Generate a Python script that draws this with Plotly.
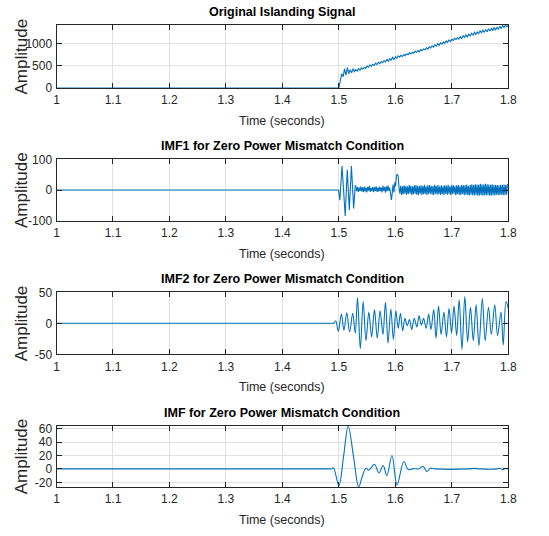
import plotly.graph_objects as go

W, H = 549, 536

# ---------------- data ----------------
time_ticks = [1.0, 1.1, 1.2, 1.3, 1.4, 1.5, 1.6, 1.7, 1.8]
time_tick_labels = ["1", "1.1", "1.2", "1.3", "1.4", "1.5", "1.6", "1.7", "1.8"]

panel_titles = [
    "Original Islanding Signal",
    "IMF1 for Zero Power Mismatch Condition",
    "IMF2 for Zero Power Mismatch Condition",
    "IMF for Zero Power Mismatch Condition",
]
x_label = "Time (seconds)"
y_label = "Amplitude"

# Panel 1: original islanding signal
orig_flat_t = [1.0, 1.5]
orig_flat_v = [0, 0]
orig_t0 = 1.5
orig_dt = 0.0025
orig_vals = [
    0, 180, 320, 250, 430, 290, 455, 320, 410, 340,
    430, 365, 410, 380, 435, 400, 450, 420, 465, 440,
    490, 465, 515, 490, 530, 505, 555, 525, 575, 545,
    590, 565, 615, 585, 640, 600, 655, 625, 685, 640,
    700, 665, 720, 690, 730, 705, 750, 725, 765, 745,
    790, 760, 800, 780, 825, 795, 840, 815, 860, 835,
    875, 855, 900, 870, 920, 895, 945, 915, 965, 935,
    990, 955, 1010, 980, 1030, 1000, 1055, 1020, 1075, 1040,
    1090, 1065, 1110, 1085, 1130, 1095, 1150, 1110, 1170, 1130,
    1190, 1145, 1205, 1165, 1225, 1180, 1245, 1200, 1255, 1215,
    1280, 1235, 1295, 1245, 1310, 1260, 1325, 1275, 1340, 1290,
    1350, 1300, 1360, 1315, 1380, 1330, 1395, 1355, 1410, 1370,
    1405,
]

# Panel 2: IMF1
imf1_flat_t = [1.0, 1.4995]
imf1_flat_v = [0, 0]
imf1_burst_t = [1.4995, 1.5017, 1.5056, 1.5112, 1.5148, 1.5185, 1.5222, 1.5262, 1.5290, 1.5300]
imf1_burst_v = [0, -33, 78, -85, 66, -65, 78, -60, 15, 12]
imf1_t0 = 1.53
imf1_dt = 0.0015
imf1_vals = [
    12, -4, 10, -6, 8, -3, 12, -5, 9, -7,
    11, -5, 8, -8, 10, -2, 13, -6, 7, -4,
    10, -7, 9, -3, 12, -6, 8, -5, 11, -4,
    9, -8, 14, -3, 10, -9, 12, -4, 15, -2,
    8, -12, -32, -10, 18, -8, 25, 12, 48, 50,
    46, 8, -12, 14, -16, 12, -14, 15, -12, 13,
    -15, 12, -13, 16, -11, 14, -16, 12, -14, 15,
    -12, 16, -15, 13, -17, 14, -12, 15, -16, 13,
    -14, 17, -13, 12, -16, 15, -13, 16, -12, 14,
    -15, 13, -16, 17, -12, 14, -15, 16, -13, 12,
    -16, 15, -14, 13, -17, 16, -12, 14, -15, 17,
    -13, 12, -16, 15, -14, 16, -12, 13, -17, 15,
    -14, 16, -15, 13, -16, 17, -13, 15, -17, 16,
    -15, 18, -16, 14, -18, 17, -15, 19, -17, 16,
    -18, 19, -16, 18, -19, 17, -18, 20, -17, 19,
    -19, 18, -17, 20, -18, 19, -16, 18, -19, 17,
    -18, 19, -17, 16, -18, 17, -15, 16, -17, 15,
    -16, 17, -15, 16, -17, 18, -16, 17, -15, 18,
    16,
]

# Panel 3: IMF2
imf2_flat_t = [1.0, 1.4915]
imf2_flat_v = [0, 0]
imf2_t = [1.4915, 1.4945, 1.4990, 1.5045, 1.5090, 1.5140, 1.5190, 1.5245, 1.5290,
          1.5330, 1.5380, 1.5430, 1.5480, 1.5530, 1.5580, 1.5630, 1.5680, 1.5730, 1.5780,
          1.5825, 1.5870, 1.5920, 1.5965, 1.6010, 1.6050, 1.6090, 1.6130, 1.6170, 1.6210,
          1.6250, 1.6290, 1.6335, 1.6380, 1.6420, 1.6460, 1.6500, 1.6545, 1.6590, 1.6630,
          1.6680, 1.6720, 1.6765, 1.6810, 1.6860, 1.6905, 1.6950, 1.6995, 1.7040, 1.7085,
          1.7130, 1.7180, 1.7230, 1.7280, 1.7330, 1.7380, 1.7430, 1.7480, 1.7540, 1.7590,
          1.7650, 1.7700, 1.7760, 1.7810, 1.7870, 1.7910, 1.7960, 1.8000]
imf2_v = [0, 4, -13, 15, -11, 17, -14, 16, -16,
          41, -41, 35, -28, 18, -22, 22, -24, 20, -18,
          34, -32, 23, -26, 20, -8, 16, -12, 8, -4,
          6, -10, 8, -6, 12, -3, 8, -8, 15, -10,
          22, -24, 28, -18, 18, -22, 24, -16, 28, -20,
          38, -42, 43, -30, 26, -28, 30, -36, 40, -28,
          26, -18, 30, -20, 18, -35, 35, 24]

# Panel 4: IMF
imf_flat_t = [1.0, 1.4870]
imf_flat_v = [0, 0]
imf_t = [1.4870, 1.4905, 1.5000, 1.5085, 1.5165, 1.5260, 1.5350, 1.5415, 1.5480, 1.5530,
         1.5630, 1.5710, 1.5785, 1.5850, 1.5940, 1.6030, 1.6150, 1.6230, 1.6320, 1.6420,
         1.6490, 1.6560, 1.6620, 1.6700, 1.7300, 1.7400, 1.7500, 1.7800, 1.7850, 1.7900,
         1.7950, 1.8000]
imf_v = [0, 1.5, -25, 20, 64, 18, -27, -11, 1, -2,
         7, -6, 5, -10, 20, -24, 11, -1, 0.5, 0,
         4, -4, 1, 0, 0, 0.8, 0, 0, 1, -1,
         0.8, 0]

y_ranges = [[0, 1410], [-100, 100], [-50, 50], [-27, 64.5]]
y_tick_vals = [[0, 500, 1000], [-100, 0, 100], [-50, 0, 50], [-20, 0, 20, 40, 60]]
y_tick_labels = [["0", "500", "1000"], ["-100", "0", "100"], ["-50", "0", "50"],
                 ["-20", "0", "20", "40", "60"]]

# ---------------- layout helpers ----------------
LINE = "#0072BD"
AX = "#262626"
GRID = "#e1e1e1"
FONT = "Liberation Sans, Arial, sans-serif"

ax_left, ax_right = 56.5, 508.3
panels_px = [(25, 88), (159.3, 220.7), (292.3, 354.3), (425.7, 487)]
title_y = [12.5, 146, 279, 412.5]


def px_x(p):
    return p / W


def px_y(p):
    return 1 - p / H


fig = go.Figure()


def add_line(i, **kw):
    ax = "" if i == 0 else str(i + 1)
    fig.add_trace(go.Scatter(mode="lines", xaxis="x" + ax, yaxis="y" + ax,
                             showlegend=False, hoverinfo="skip", **kw))


lw = 1.1
add_line(0, x=orig_flat_t, y=orig_flat_v, line=dict(color=LINE, width=lw))
add_line(0, y=orig_vals, x0=orig_t0, dx=orig_dt, line=dict(color=LINE, width=lw))

add_line(1, x=imf1_flat_t, y=imf1_flat_v, line=dict(color=LINE, width=lw))
add_line(1, x=imf1_burst_t, y=imf1_burst_v, line=dict(color=LINE, width=lw))
add_line(1, y=imf1_vals, x0=imf1_t0, dx=imf1_dt, line=dict(color=LINE, width=lw))

add_line(2, x=imf2_flat_t, y=imf2_flat_v, line=dict(color=LINE, width=lw))
add_line(2, x=imf2_t, y=imf2_v, line=dict(color=LINE, width=lw, shape="spline", smoothing=1.0))

add_line(3, x=imf_flat_t, y=imf_flat_v, line=dict(color=LINE, width=lw))
add_line(3, x=imf_t, y=imf_v, line=dict(color=LINE, width=lw, shape="spline", smoothing=1.0))

layout = dict(
    width=W, height=H,
    margin=dict(l=0, r=0, t=0, b=0, autoexpand=False),
    paper_bgcolor="white", plot_bgcolor="white",
    showlegend=False,
)

common = dict(
    showline=True, linecolor=AX, linewidth=1, mirror="allticks",
    ticks="inside", ticklen=5, tickwidth=1, tickcolor=AX,
    showgrid=True, gridcolor=GRID, gridwidth=1, zeroline=False,
    automargin=False,
    tickfont=dict(family=FONT, size=12, color=AX),
)

annotations = []
for i, (top, bot) in enumerate(panels_px):
    ax = "" if i == 0 else str(i + 1)
    layout["xaxis" + ax] = dict(
        common, domain=[px_x(ax_left), px_x(ax_right)], range=[1.0, 1.8],
        tickmode="array", tickvals=time_ticks, ticktext=time_tick_labels,
        anchor="y" + ax, ticklabelstandoff=1,
    )
    layout["yaxis" + ax] = dict(
        common, domain=[px_y(bot), px_y(top)], range=y_ranges[i],
        tickmode="array", tickvals=y_tick_vals[i], ticktext=y_tick_labels[i],
        anchor="x" + ax, ticklabelstandoff=1,
    )
    annotations.append(dict(
        text="<b>%s</b>" % panel_titles[i], x=px_x((ax_left + ax_right) / 2), y=px_y(title_y[i]),
        xref="paper", yref="paper", xanchor="center", yanchor="middle", showarrow=False,
        font=dict(family=FONT, size=12.5, color="black"),
    ))
    annotations.append(dict(
        text=x_label, x=px_x((ax_left + ax_right) / 2), y=px_y(bot + 33),
        xref="paper", yref="paper", xanchor="center", yanchor="middle", showarrow=False,
        font=dict(family=FONT, size=12.5, color=AX),
    ))
    annotations.append(dict(
        text=y_label, x=px_x(21), y=px_y((top + bot) / 2), textangle=-90,
        xref="paper", yref="paper", xanchor="center", yanchor="middle", showarrow=False,
        font=dict(family=FONT, size=17, color=AX),
    ))

layout["annotations"] = annotations
fig.update_layout(**layout)
fig.write_html(
    "out.html",
    config={"displayModeBar": False, "staticPlot": True},
    post_script="document.body.style.margin='0px';document.body.style.overflow='hidden';",
)
